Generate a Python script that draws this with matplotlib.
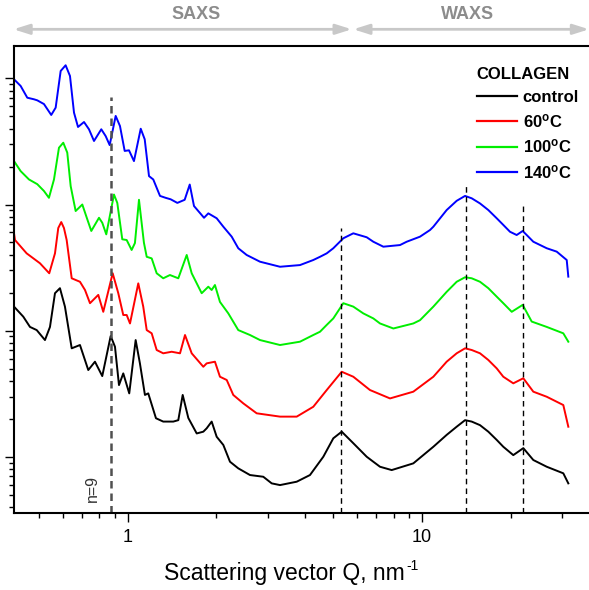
import matplotlib
matplotlib.use("Agg")
import matplotlib.pyplot as plt
from matplotlib.transforms import IdentityTransform
from matplotlib.ticker import NullFormatter, FuncFormatter, LogLocator

plt.rcParams['font.family'] = ['Liberation Sans', 'DejaVu Sans']
plt.rcParams['mathtext.default'] = 'regular'

# ---- scattering curves: Q (nm^-1) and intensity (offset, a.u.) ----
q_control = [0.4096, 0.4405, 0.4642, 0.4893, 0.5220, 0.5429, 0.5646, 0.5870, 0.6104,
             0.6436, 0.6866, 0.7328, 0.7722, 0.8176, 0.8733, 0.9032, 0.9320, 0.9638,
             1.010, 1.062, 1.098, 1.142, 1.172, 1.245, 1.318, 1.426, 1.483, 1.535,
             1.604, 1.713, 1.804, 1.852, 1.926, 2.003, 2.110, 2.223, 2.372, 2.600,
             2.885, 3.082, 3.289, 3.749, 4.159, 4.617, 4.993, 5.333, 5.839, 6.485,
             6.829, 7.197, 7.887, 9.342, 10.93, 12.13, 13.12, 14.01, 14.76, 15.75,
             16.81, 17.95, 18.90, 20.44, 22.11, 23.91, 26.56, 30.24, 31.45]
i_control = [15.5, 12.9, 10.7, 10.1, 8.42, 10.7, 19.8, 21.7, 15.5,
             7.24, 7.69, 4.87, 5.67, 4.36, 9.06, 7.45, 3.70, 4.58,
             3.18, 8.42, 5.50, 3.09, 3.18, 2.02, 1.90, 1.90, 1.95, 3.09,
             2.03, 1.53, 1.58, 1.68, 1.90, 1.44, 1.24, 0.913, 0.809, 0.716,
             0.694, 0.615, 0.596, 0.634, 0.716, 1.00, 1.40, 1.58, 1.28, 1.00,
             0.913, 0.833, 0.784, 0.886, 1.20, 1.49, 1.73, 1.95, 1.90, 1.78,
             1.58, 1.36, 1.20, 1.03, 1.17, 0.942, 0.833, 0.739, 0.615]

q_60 = [0.4096, 0.4128, 0.4522, 0.5020, 0.5398, 0.5646, 0.5793, 0.5930, 0.6057,
        0.6187, 0.6436, 0.6866, 0.7142, 0.7427, 0.7925, 0.8241, 0.8871, 0.9269,
        0.9638, 0.9899, 1.016, 1.084, 1.127, 1.158, 1.204, 1.252, 1.318, 1.408,
        1.503, 1.563, 1.647, 1.804, 1.852, 1.976, 2.055, 2.167, 2.281, 2.467,
        2.740, 3.289, 3.749, 4.268, 4.742, 5.333, 5.839, 6.654, 7.784, 9.342,
        10.93, 12.13, 13.12, 14.01, 14.76, 15.75, 16.81, 17.95, 18.90, 20.44,
        22.11, 23.91, 26.56, 30.24, 31.45]
i_60 = [59.1, 52.3, 41.0, 34.2, 28.5, 41.0, 65.1, 72.6, 65.1,
        52.3, 26.0, 24.4, 21.0, 16.5, 19.2, 14.1, 28.5, 19.8,
        13.3, 13.3, 11.4, 23.7, 15.5, 10.1, 9.52, 7.02, 6.61, 6.80,
        6.61, 9.23, 6.61, 5.17, 5.50, 5.67, 4.31, 4.06, 3.09, 2.65,
        2.21, 2.08, 2.08, 2.49, 3.38, 4.72, 4.31, 3.38, 2.90, 3.28,
        4.31, 5.67, 6.61, 7.24, 7.02, 6.61, 5.85, 5.02, 4.31, 3.82,
        4.19, 3.28, 2.99, 2.57, 1.73]

q_100 = [0.4096, 0.4315, 0.4606, 0.4915, 0.5179, 0.5385, 0.5602, 0.5825, 0.6025,
         0.6216, 0.6384, 0.6638, 0.6993, 0.7272, 0.7503, 0.7969, 0.8176, 0.8437,
         0.8962, 0.9197, 0.9563, 0.9899, 1.029, 1.056, 1.090, 1.133, 1.158, 1.204,
         1.252, 1.318, 1.389, 1.483, 1.584, 1.647, 1.781, 1.876, 1.926, 1.976,
         2.055, 2.194, 2.372, 2.600, 2.812, 3.289, 3.846, 4.268, 4.499, 4.742,
         4.993, 5.400, 5.839, 6.314, 6.829, 7.197, 7.990, 9.342, 9.845, 10.93,
         12.13, 13.12, 14.01, 14.76, 15.75, 16.81, 17.95, 18.90, 20.19, 22.00,
         23.61, 26.56, 30.24, 31.45]
i_100 = [221, 184, 158, 145, 128, 113, 158, 282, 309,
         258, 140, 88.8, 100, 76.3, 61.7, 78.5, 71.7, 58.0,
         120, 103, 53.0, 52.3, 43.6, 49.5, 109, 49.8, 38.5, 37.4,
         28.5, 26.0, 27.6, 26.0, 39.8, 28.5, 19.8, 22.3, 21.0, 23.0,
         16.9, 13.7, 10.1, 9.23, 8.42, 7.69, 8.17, 9.23, 9.80, 11.1,
         12.5, 16.5, 15.5, 13.7, 12.5, 11.4, 10.4, 11.4, 12.1, 15.5,
         20.3, 24.4, 26.5, 26.0, 24.4, 21.7, 18.6, 16.5, 14.1, 16.0,
         11.8, 10.7, 9.52, 8.17]

q_140 = [0.4096, 0.4315, 0.4545, 0.4789, 0.4915, 0.5179, 0.5483, 0.5676, 0.5903,
         0.6137, 0.6350, 0.6553, 0.6762, 0.7087, 0.7368, 0.7664, 0.8114, 0.8396,
         0.8665, 0.9081, 0.9393, 0.9745, 1.008, 1.048, 1.105, 1.140, 1.179, 1.219,
         1.285, 1.343, 1.397, 1.472, 1.559, 1.622, 1.677, 1.814, 1.876, 2.003,
         2.110, 2.253, 2.372, 2.533, 2.812, 3.289, 3.846, 4.268, 4.499, 4.742,
         4.993, 5.400, 5.839, 6.485, 6.829, 7.387, 8.417, 8.872, 9.845, 10.65,
         10.93, 12.13, 13.12, 14.01, 14.76, 15.75, 16.81, 17.95, 18.90, 19.92,
         20.99, 22.00, 23.91, 26.56, 28.72, 31.06, 31.45]
i_140 = [984, 871, 703, 683, 670, 626, 513, 586, 1145,
         1271, 1045, 535, 412, 451, 395, 319, 395, 349,
         296, 504, 419, 266, 269, 221, 399, 329, 168, 158,
         117, 113, 110, 103, 109, 144, 97.3, 78.5, 85.1, 77.8,
         66.7, 55.6, 45.0, 39.8, 35.2, 32.1, 33.1, 36.3, 38.5, 41.0,
         45.0, 54.0, 59.1, 55.0, 50.7, 46.3, 47.7, 50.7, 55.6, 62.8,
         66.7, 90.4, 107, 117, 112, 102, 90.4, 77.8, 68.9, 60.8,
         57.3, 61.7, 50.7, 45.0, 42.3, 36.3, 26.8]

series_labels = ['control', '60$^{o}$C', '100$^{o}$C', '140$^{o}$C']
series_colors = ['#000000', '#ff0000', '#00ee00', '#0000ff']

# reference peak positions and the heights their markers reach
ref_q = [0.873, 5.30, 14.1, 22.0]
ref_top = [708, 64.7, 147, 99]

x_range = (0.4096, 36.98)
y_range = (0.358, 1807)

fig = plt.figure(figsize=(5.89, 5.90), dpi=100)
ax = fig.add_axes([14 / 589, 1 - 513 / 590, 575 / 589, 467 / 590])
ax.set_xscale('log')
ax.set_yscale('log')
ax.set_xlim(*x_range)
ax.set_ylim(*y_range)

curves = [(q_control, i_control), (q_60, i_60), (q_100, i_100), (q_140, i_140)]
for (q, inten), lab, col in zip(curves, series_labels, series_colors):
    ax.plot(q, inten, color=col, lw=1.4, label=lab, solid_joinstyle='round')

# first-order-series marker (grey) and WAXS peak markers (black)
ax.vlines(ref_q[0], y_range[0], ref_top[0], colors='#505050', lw=1.8,
          linestyles=(0, (3.0, 2.0)))
for q, top in zip(ref_q[1:], ref_top[1:]):
    ax.vlines(q, y_range[0], top, colors='black', lw=1.0, linestyles=(0, (4.0, 3.0)))

ax.text(0.757, 0.565, 'n=9', rotation=90, ha='center', va='center',
        fontsize=11.5, color='#333333')

for side in ('left', 'bottom', 'top'):
    ax.spines[side].set_linewidth(1.5)
ax.spines['right'].set_visible(False)

ax.tick_params(axis='both', which='major', direction='out', length=6.5, width=1.0,
               labelsize=13, top=False, right=False)
ax.tick_params(axis='both', which='minor', direction='out', length=3.5, width=1.0,
               top=False, right=False)
ax.tick_params(axis='x', which='major', pad=5)
ax.xaxis.set_major_formatter(FuncFormatter(lambda v, p: '%g' % v))
ax.xaxis.set_minor_formatter(NullFormatter())
ax.yaxis.set_major_formatter(NullFormatter())
ax.yaxis.set_minor_formatter(NullFormatter())
ax.yaxis.set_minor_locator(LogLocator(base=10, subs=range(2, 10), numticks=20))

ax.set_xlabel('Scattering vector Q, nm', fontsize=16.5)
ax.xaxis.set_label_coords(0.471, -0.105)

leg = ax.legend(title='COLLAGEN', loc='upper left', bbox_to_anchor=(0.8047, 0.955),
                frameon=False, borderaxespad=0, borderpad=0, alignment='left',
                prop={'weight': 'bold', 'size': 12},
                title_fontproperties={'weight': 'bold', 'size': 12},
                handlelength=2.4, handletextpad=0.35, labelspacing=0.45)
for line in leg.get_lines():
    line.set_linewidth(1.6)

# SAXS / WAXS ranges above the plot
arrow_kw = dict(arrowstyle='<|-|>,head_length=0.95,head_width=0.3', color='#c8c8c8',
                lw=2.0, shrinkA=0, shrinkB=0, mutation_scale=10)
y_arr = 1 - 29.3 / 590
ax.annotate('', xy=(13.5 / 589, y_arr), xytext=(351.7 / 589, y_arr),
            xycoords='figure fraction', textcoords='figure fraction',
            arrowprops=arrow_kw, annotation_clip=False)
ax.annotate('', xy=(353.3 / 589, y_arr), xytext=(589 / 589, y_arr),
            xycoords='figure fraction', textcoords='figure fraction',
            arrowprops=arrow_kw, annotation_clip=False)
fig.text(196 / 589, 1 - 14.5 / 590, 'SAXS', ha='center', va='center',
         fontsize=13, fontweight='bold', color='#8c8c8c')
fig.text(467.5 / 589, 1 - 14.5 / 590, 'WAXS', ha='center', va='center',
         fontsize=13, fontweight='bold', color='#8c8c8c')

# unit exponent written with a plain hyphen, set just after the axis label
fig.canvas.draw()
lbl_box = ax.xaxis.label.get_window_extent()
fig.text(lbl_box.x1 + 1, lbl_box.y1 + 3, '-1', fontsize=10, ha='left', va='top',
         transform=IdentityTransform())

fig.savefig('out.png', dpi=100)
